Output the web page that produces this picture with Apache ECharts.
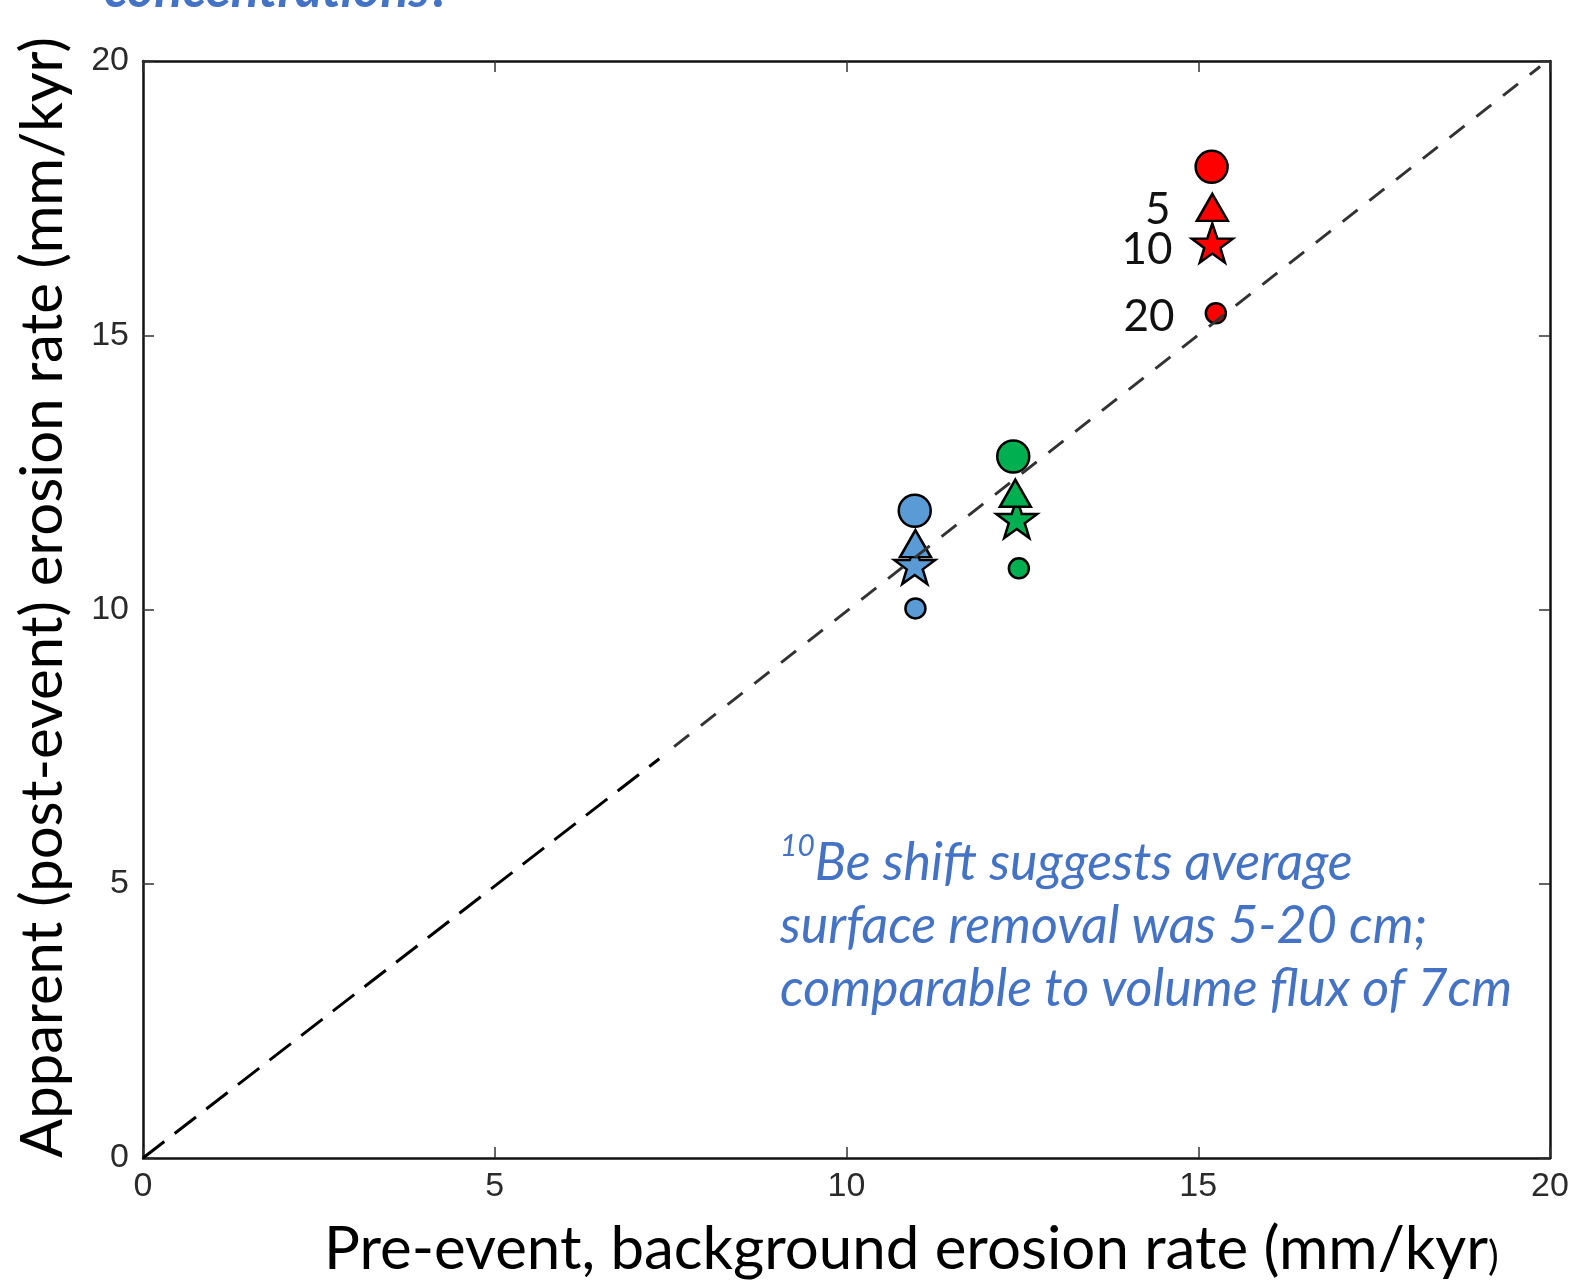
<!DOCTYPE html>
<html>
<head>
<meta charset="utf-8">
<script src="https://cdn.jsdelivr.net/npm/echarts@6/dist/echarts.min.js"></script>
<style>html,body{margin:0;padding:0;background:#fff;}#c{width:1578px;height:1282px;}</style>
</head>
<body>
<div id="c"></div>
<script>
// ---- data ----
const siteColors = ['#5B9BD5', '#00B050', '#FF0000'];
const bigCircleX = [10.97, 12.37, 15.19];
const bigCircleY = [11.80, 12.79, 18.07];
const triangleX = [10.98, 12.40, 15.20];
const triangleY = [11.20, 12.12, 17.33];
const starX = [10.97, 12.42, 15.20];
const starY = [10.82, 11.66, 16.68];
const smallCircleX = [10.98, 12.45, 15.25];
const smallCircleY = [10.02, 10.75, 15.40];
const depthLabels = { triangle: '5', star: '10', smallCircle: '20' };
const refLow = [[0, 0], [7.34, 7.28]];
const refHigh = [[7.55, 7.5], [19.86, 19.9]];
const xTicks = [0, 5, 10, 15, 20];
const yTicks = [0, 5, 10, 15, 20];

const starPath = 'path://M50,0 L61.8,35.1 L98.1,35.1 L68.8,56.8 L79.4,91.0 L50,70.0 L20.6,91.0 L31.2,56.8 L1.9,35.1 L38.2,35.1 Z';

function pts(xs, ys, labelText) {
  return xs.map((x, i) => ({
    value: [x, ys[i]],
    itemStyle: { color: siteColors[i] },
    label: (labelText && i === 2) ? { show: true, formatter: labelText } : { show: false }
  }));
}

const tickLabelStyle = { fontFamily: 'Liberation Sans', fontSize: 34, color: '#2a2a2a' };
const axisBase = {
  type: 'value', min: 0, max: 20, interval: 5,
  splitLine: { show: false },
  axisLine: { show: true, onZero: false, lineStyle: { color: '#111', width: 2.5 } },
  axisTick: { show: true, inside: true, length: 11, lineStyle: { color: '#333', width: 1.5 } }
};

function markerLabel(dist, dy) {
  return { position: 'left', distance: dist, offset: [0, dy],
    fontFamily: 'Lato', fontSize: 44, color: '#111' };
}

const chart = echarts.init(document.getElementById('c'), null, { renderer: 'canvas' });
chart.setOption({
  animation: false,
  backgroundColor: '#fff',
  grid: { left: 143, right: 28, top: 61, bottom: 124, containLabel: false },
  xAxis: [
    Object.assign({}, axisBase, { position: 'bottom',
      axisLabel: Object.assign({ margin: 12, formatter: v => xTicks.includes(v) ? String(v) : '' }, tickLabelStyle) }),
    Object.assign({}, axisBase, { position: 'top', axisLabel: { show: false } })
  ],
  yAxis: [
    Object.assign({}, axisBase, { position: 'left',
      axisLabel: Object.assign({ margin: 14, formatter: v => yTicks.includes(v) ? String(v) : '' }, tickLabelStyle) }),
    Object.assign({}, axisBase, { position: 'right', axisLabel: { show: false } })
  ],
  series: [
    { type: 'line', data: refLow, symbol: 'none', silent: true,
      lineStyle: { color: '#000', width: 3, type: [27, 13] } },
    { type: 'line', data: refHigh, symbol: 'none', silent: true,
      lineStyle: { color: '#333', width: 3, type: [19, 15] } },
    { type: 'scatter', name: 'smallCircle', data: pts(smallCircleX, smallCircleY, depthLabels.smallCircle),
      symbol: 'circle', symbolSize: 20,
      itemStyle: { borderColor: '#000', borderWidth: 2.5, opacity: 1 }, label: markerLabel(30, 4) },
    { type: 'scatter', name: 'star', data: pts(starX, starY, depthLabels.star),
      symbol: starPath, symbolSize: [41, 39],
      itemStyle: { borderColor: '#000', borderWidth: 2.5, opacity: 1 }, label: markerLabel(18, 7) },
    { type: 'scatter', name: 'triangle', data: pts(triangleX, triangleY, depthLabels.triangle),
      symbol: 'triangle', symbolSize: [31, 27],
      itemStyle: { borderColor: '#000', borderWidth: 2.5, opacity: 1 }, label: markerLabel(25, 2) },
    { type: 'scatter', name: 'bigCircle', data: pts(bigCircleX, bigCircleY, null),
      symbol: 'circle', symbolSize: 32,
      itemStyle: { borderColor: '#000', borderWidth: 2.5, opacity: 1 } }
  ],
  graphic: [
    { type: 'text', x: 104, y: -10,
      style: { text: 'concentrations?', fontFamily: 'Lato', fontStyle: 'italic', fontWeight: 'bold',
        fontSize: 52, fill: '#4472C4', textVerticalAlign: 'middle' } },
    { type: 'text', x: 43, y: 1158, rotation: Math.PI / 2,
      style: { text: 'Apparent (post-event) erosion rate (mm/kyr)', fontFamily: 'Lato', fontSize: 58,
        fill: '#000', textAlign: 'left', textVerticalAlign: 'middle' } },
    { type: 'text', x: 324, y: 1250,
      style: {
        text: '{m|Pre-event, background erosion rate (mm/kyr}{s|)}',
        rich: {
          m: { fontFamily: 'Lato', fontSize: 60, fill: '#000' },
          s: { fontFamily: 'Lato', fontSize: 40, fill: '#000', padding: [14, 0, 0, 0] }
        },
        textAlign: 'left', textVerticalAlign: 'middle' } },
    { type: 'text', x: 780, y: 926,
      style: {
        text: '{sup|10}{t|Be shift suggests average}\n{t|surface removal was 5-20 cm;}\n{t|comparable to volume flux of 7cm}',
        rich: {
          sup: { fontFamily: 'Lato', fontStyle: 'italic', fontSize: 30, fill: '#4472C4', verticalAlign: 'top', lineHeight: 63, padding: [0, 0, 20, 0] },
          t: { fontFamily: 'Lato', fontStyle: 'italic', fontSize: 52, fill: '#4472C4', lineHeight: 63 }
        },
        textAlign: 'left', textVerticalAlign: 'middle'
      } }
  ]
});
</script>
</body>
</html>
